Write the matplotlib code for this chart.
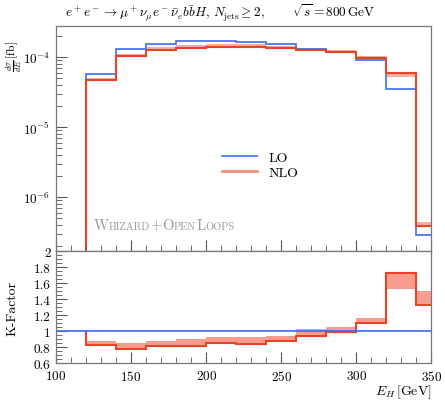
import numpy as np
import matplotlib
matplotlib.use("Agg")
import matplotlib.pyplot as plt
from matplotlib.ticker import MultipleLocator, FuncFormatter, LogLocator

plt.rcParams['font.family'] = 'serif'
plt.rcParams['font.serif'] = ['cmr10', 'DejaVu Serif']
plt.rcParams['mathtext.fontset'] = 'cm'
plt.rcParams['axes.formatter.use_mathtext'] = True
plt.rcParams['axes.unicode_minus'] = False

# bin edges in E_H [GeV]
edges = [120, 140, 160, 180, 200, 220, 240, 260, 280, 300, 320, 340, 360]

# d sigma / dE [fb/GeV]
lo = [5.7e-5, 1.32e-4, 1.57e-4, 1.68e-4, 1.68e-4, 1.65e-4, 1.56e-4, 1.33e-4,
      1.19e-4, 9.0e-5, 3.46e-5, 2.9e-7]
nlo = [4.73e-5, 1.03e-4, 1.27e-4, 1.37e-4, 1.42e-4, 1.39e-4, 1.37e-4, 1.25e-4,
       1.18e-4, 9.9e-5, 5.95e-5, 3.83e-7]
nlo_min = [4.73e-5, 1.03e-4, 1.27e-4, 1.37e-4, 1.42e-4, 1.39e-4, 1.37e-4, 1.25e-4,
           1.18e-4, 9.9e-5, 5.29e-5, 3.83e-7]
nlo_max = [5.02e-5, 1.13e-4, 1.38e-4, 1.51e-4, 1.55e-4, 1.535e-4, 1.47e-4, 1.36e-4,
           1.25e-4, 1.044e-4, 5.95e-5, 4.35e-7]

blue = '#3a6cf4'
red = '#ea4226'
band = '#f58c7c'
grey = '#555555'

lo_a = np.array(lo)
k = np.array(nlo) / lo_a
k_min = np.array(nlo_min) / lo_a
k_max = np.array(nlo_max) / lo_a

fig = plt.figure(figsize=(4.45, 4.02), dpi=100)
ax = fig.add_axes([0.126, 0.373, 0.843, 0.56])
axk = fig.add_axes([0.126, 0.0945, 0.843, 0.2785])

# top panel
ax.stairs(nlo_max, edges, baseline=nlo_min, fill=True, color=band, alpha=0.7, lw=0)
ax.stairs(lo, edges, baseline=1e-12, color=blue, lw=1.2)
ax.stairs(nlo, edges, baseline=1e-12, color=red, lw=1.5)
ax.set_yscale('log')
ax.set_xlim(100, 350)
ax.set_ylim(1.7e-7, 2.8e-4)
ax.plot([], [], color=blue, lw=1.2, label='LO')
ax.plot([], [], color=band, lw=2, label='NLO')
ax.legend(loc='upper left', bbox_to_anchor=(0.41, 0.5), frameon=False,
          fontsize=10, handlelength=2.5, labelspacing=0.15)
ax.tick_params(axis='x', labelbottom=False)
ax.yaxis.set_major_locator(LogLocator(base=10, numticks=10))
ax.yaxis.set_minor_locator(LogLocator(base=10, subs=np.arange(2, 10), numticks=20))

ax.set_ylabel(r'$\frac{d\sigma}{dE}\,$[fb]', fontsize=8.5, rotation=90)
ax.yaxis.set_label_coords(-0.085, 0.87)
fig.text(0.494, 0.968,
         r'$e^+e^-\to\mu^+\nu_\mu e^-\bar\nu_e b\bar bH,\,N_{\rm jets}\geq 2,$'
         r'$\quad\quad\;\sqrt{s}=800\,{\rm GeV}$',
         fontsize=9.5, ha='center', va='center')

# K-factor panel
axk.stairs(k_max, edges, baseline=k_min, fill=True, color=band, alpha=0.85, lw=0)
axk.axhline(1.0, color=blue, lw=1.2)
axk.stairs(k, edges, baseline=1.0, color=red, lw=1.5)
axk.set_xlim(100, 350)
axk.set_ylim(0.6, 2.0)
axk.yaxis.set_major_locator(MultipleLocator(0.2))
axk.yaxis.set_minor_locator(MultipleLocator(0.05))
axk.yaxis.set_major_formatter(FuncFormatter(lambda v, p: '%g' % round(v, 2)))
axk.set_ylabel('K-Factor', fontsize=10)
axk.yaxis.set_label_coords(-0.1, 0.5)
axk.text(1.0, -0.255, r'$E_H\,$[GeV]', transform=axk.transAxes, ha='right',
         va='center', fontsize=10)

for a in (ax, axk):
    a.xaxis.set_major_locator(MultipleLocator(50))
    a.xaxis.set_minor_locator(MultipleLocator(10))
    a.tick_params(which='both', direction='in', top=False, right=False,
                  color=grey, labelsize=9.5, pad=4)
    a.tick_params(which='major', length=8, width=0.8)
    a.tick_params(which='minor', length=4, width=0.6)
    for s in a.spines.values():
        s.set_color('#777777')
        s.set_linewidth(0.9)

# small caps label
fig.canvas.draw()
r = fig.canvas.get_renderer()
pieces = [('W', 10.5), ('HIZARD', 7.5), ('+', 10.5), ('O', 10.5), ('PEN', 7.5),
          ('L', 10.5), ('OOPS', 7.5)]
x0 = ax.transAxes.transform((0.1, 0.1))
xpos = x0[0]
for txt, fs in pieces:
    t = fig.text(xpos / fig.bbox.width, x0[1] / fig.bbox.height, txt,
                 fontsize=fs, color='#999999', va='baseline')
    xpos += t.get_window_extent(r).width + 0.3

fig.savefig('out.png', dpi=100)
